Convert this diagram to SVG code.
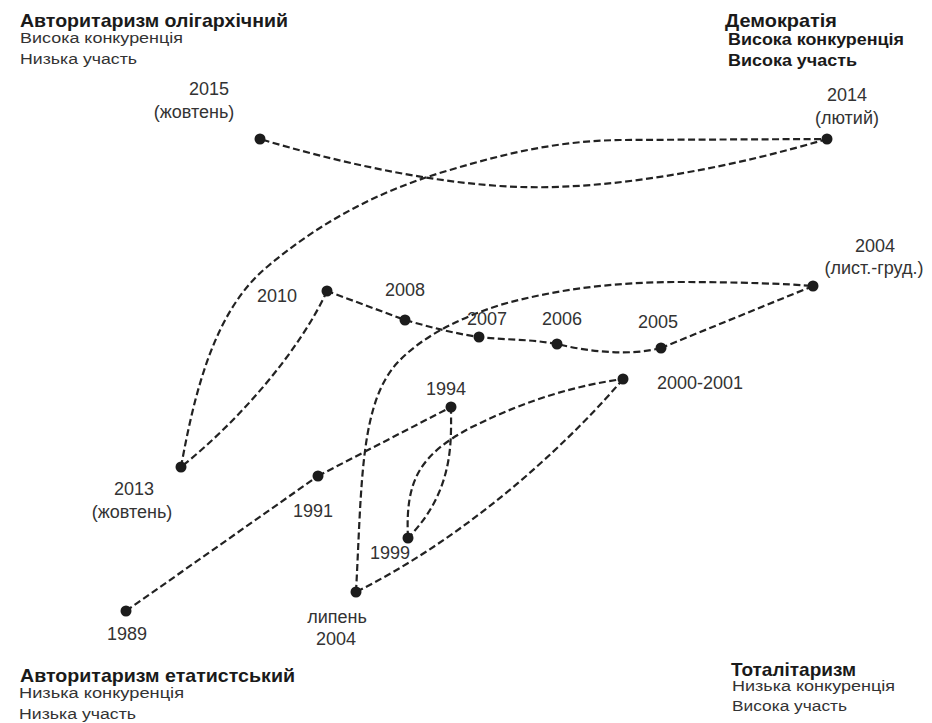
<svg xmlns="http://www.w3.org/2000/svg" width="932" height="723" viewBox="0 0 932 723">
<style>
  .bg{fill:#ffffff}
  .conn{fill:none;stroke:#222;stroke-width:2.2;stroke-dasharray:7 3.5}
  .dot{fill:#1c1c1c}
  .lbl{font-family:"Liberation Sans",Arial,sans-serif;font-size:18px;fill:#333;text-anchor:middle}
  .lbs{font-family:"Liberation Sans",Arial,sans-serif;font-size:18px;fill:#333}
  .ttl{font-family:"Liberation Sans",Arial,sans-serif;font-size:18.5px;font-weight:bold;fill:#1a1a1a}
  .sub{font-family:"Liberation Sans",Arial,sans-serif;font-size:15.5px;fill:#333}
  .subb{font-family:"Liberation Sans",Arial,sans-serif;font-size:16.5px;font-weight:bold;fill:#1a1a1a}
</style>
<rect class="bg" x="0" y="0" width="932" height="723"/>

<g id="corners">
  <g id="q-oligarchic">
    <text class="ttl" x="20" y="27" textLength="268" lengthAdjust="spacingAndGlyphs">Авторитаризм олігархічний</text>
    <text class="sub" x="20" y="43" textLength="163" lengthAdjust="spacingAndGlyphs">Висока конкуренція</text>
    <text class="sub" x="20" y="64" textLength="117" lengthAdjust="spacingAndGlyphs">Низька участь</text>
  </g>
  <g id="q-democracy">
    <text class="ttl" x="725" y="27" textLength="112" lengthAdjust="spacingAndGlyphs">Демократія</text>
    <text class="subb" x="728" y="45" textLength="176" lengthAdjust="spacingAndGlyphs">Висока конкуренція</text>
    <text class="subb" x="728" y="66" textLength="129" lengthAdjust="spacingAndGlyphs">Висока участь</text>
  </g>
  <g id="q-etatist">
    <text class="ttl" x="20" y="682" textLength="275" lengthAdjust="spacingAndGlyphs">Авторитаризм етатистський</text>
    <text class="sub" x="19" y="698" textLength="165" lengthAdjust="spacingAndGlyphs">Низька конкуренція</text>
    <text class="sub" x="19" y="719" textLength="117" lengthAdjust="spacingAndGlyphs">Низька участь</text>
  </g>
  <g id="q-totalitarian">
    <text class="ttl" x="731" y="676" textLength="125" lengthAdjust="spacingAndGlyphs">Тоталітаризм</text>
    <text class="sub" x="732" y="691" textLength="163" lengthAdjust="spacingAndGlyphs">Низька конкуренція</text>
    <text class="sub" x="732" y="711" textLength="115" lengthAdjust="spacingAndGlyphs">Висока участь</text>
  </g>
</g>

<g id="connectors">
  <path class="conn" d="M126,611 L318,476"/>
  <path class="conn" d="M318,476 L451,407"/>
  <path class="conn" d="M451,407 C451,440 455,490 408,538"/>
  <path class="conn" d="M408,538 C405,480 420,455 470,428 C530,398 580,385 623,379"/>
  <path class="conn" d="M623,379 C580,430 480,530 356,592"/>
  <path class="conn" d="M356,592 C362,480 360,400 400,360 C425,335 460,318 500,305 C560,288 620,282 680,282 C740,282 790,284 813,286"/>
  <path class="conn" d="M813,286 L661,348"/>
  <path class="conn" d="M661,348 C630,356 590,352 557,344 C530,339 505,340 479,337 C452,333 430,327 405,320 L327,291"/>
  <path class="conn" d="M327,291 C300,350 240,420 181,467"/>
  <path class="conn" d="M181,467 C195,390 215,310 267,267 C320,222 380,190 450,170 C510,152 560,141 620,140 L827,139"/>
  <path class="conn" d="M827,139 C740,165 620,190 520,187 C430,184 330,160 260,139"/>
</g>

<g id="n1989"><circle class="dot" cx="126" cy="611" r="5.5"/><text class="lbl" x="127" y="640">1989</text></g>
<g id="n1991"><circle class="dot" cx="318" cy="476" r="5.5"/><text class="lbl" x="313" y="517">1991</text></g>
<g id="n1994"><circle class="dot" cx="451" cy="407" r="5.5"/><text class="lbl" x="446" y="395">1994</text></g>
<g id="n1999"><circle class="dot" cx="408" cy="538" r="5.5"/><text class="lbl" x="390" y="559">1999</text></g>
<g id="n2000"><circle class="dot" cx="623" cy="379" r="5.5"/><text class="lbs" x="657" y="389">2000-2001</text></g>
<g id="n2004jul"><circle class="dot" cx="356" cy="592" r="5.5"/><text class="lbl" x="337" y="623">липень</text><text class="lbl" x="336" y="645">2004</text></g>
<g id="n2004nov"><circle class="dot" cx="813" cy="286" r="5.5"/><text class="lbl" x="875" y="252">2004</text><text class="lbl" x="874" y="274">(лист.-груд.)</text></g>
<g id="n2005"><circle class="dot" cx="661" cy="348" r="5.5"/><text class="lbl" x="658" y="328">2005</text></g>
<g id="n2006"><circle class="dot" cx="557" cy="344" r="5.5"/><text class="lbl" x="562" y="325">2006</text></g>
<g id="n2007"><circle class="dot" cx="479" cy="337" r="5.5"/><text class="lbl" x="487" y="325">2007</text></g>
<g id="n2008"><circle class="dot" cx="405" cy="320" r="5.5"/><text class="lbl" x="405" y="296">2008</text></g>
<g id="n2010"><circle class="dot" cx="327" cy="291" r="5.5"/><text class="lbl" x="277" y="302">2010</text></g>
<g id="n2013"><circle class="dot" cx="181" cy="467" r="5.5"/><text class="lbl" x="134" y="495">2013</text><text class="lbl" x="132" y="518">(жовтень)</text></g>
<g id="n2014"><circle class="dot" cx="827" cy="139" r="5.5"/><text class="lbl" x="847" y="101">2014</text><text class="lbl" x="847" y="124">(лютий)</text></g>
<g id="n2015"><circle class="dot" cx="260" cy="139" r="5.5"/><text class="lbl" x="209" y="95">2015</text><text class="lbl" x="194" y="118">(жовтень)</text></g>
</svg>
